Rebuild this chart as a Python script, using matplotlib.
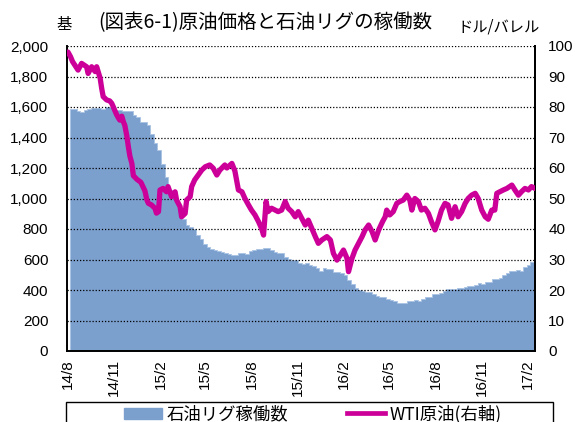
import matplotlib
matplotlib.use("Agg")
import matplotlib.pyplot as plt
import numpy as np
import pandas as pd
from matplotlib.patches import Rectangle, Patch
from matplotlib.lines import Line2D

plt.rcParams['font.family'] = ['Liberation Sans', 'Noto Sans CJK JP', 'DejaVu Sans']

# ---------------- data ----------------
title = "(図表6-1)原油価格と石油リグの稼働数"
left_unit = "基"
right_unit = "ドル/バレル"
rig_label = "石油リグ稼働数"
wti_label = "WTI原油(右軸)"

# weekly US oil rig count (first week: 2014-08-04)
rig_start = "2014-08-04"
rigs = [
    1588, 1590, 1576, 1565, 1581, 1588, 1592, 1595, 1596, 1590, 1600, 1598, 1585, 1578,
    1578, 1574, 1574, 1575, 1546, 1536, 1499, 1499,
    1482, 1421, 1366, 1317, 1223, 1140, 1056, 1019, 986, 922, 866, 825, 813,
    802, 760, 734, 703, 679, 668, 660, 659, 646, 642, 635, 631, 628,
    640, 645, 638, 659, 664, 670, 672, 674, 675, 662, 652, 644, 640,
    614, 605, 595, 594, 578, 572, 574, 564, 555, 545, 524, 541, 538, 536,
    516, 515, 510, 498, 467, 439, 413, 400, 392, 386, 387, 372,
    362, 354, 351, 343, 332, 328, 318, 318, 316, 325, 328, 337, 330,
    341, 351, 357, 371, 374, 381, 396, 406, 406, 407, 414, 416, 418, 425,
    428, 432, 443, 441, 450, 452, 471, 474, 477, 498, 510, 523, 525,
    529, 522, 551, 566, 583, 591,
]

# WTI crude oil price (USD/bbl)
wti_dates = [
    "2014-08-01", "2014-08-06", "2014-08-10", "2014-08-21", "2014-08-28", "2014-09-07",
    "2014-09-10", "2014-09-17", "2014-09-24", "2014-09-27", "2014-10-04", "2014-10-07",
    "2014-10-10", "2014-10-17", "2014-10-23", "2014-10-27", "2014-10-30", "2014-11-03",
    "2014-11-06", "2014-11-09", "2014-11-12", "2014-11-16", "2014-11-19", "2014-11-22",
    "2014-11-26", "2014-11-29", "2014-12-02", "2014-12-06", "2014-12-09", "2014-12-16",
    "2014-12-24", "2015-01-01", "2015-01-05", "2015-01-08", "2015-01-14", "2015-01-21",
    "2015-01-24", "2015-01-28", "2015-01-31", "2015-02-06", "2015-02-13", "2015-02-16",
    "2015-02-23", "2015-03-02", "2015-03-05", "2015-03-12", "2015-03-15", "2015-03-22",
    "2015-03-25", "2015-04-01", "2015-04-04", "2015-04-10", "2015-04-17", "2015-04-24",
    "2015-05-01", "2015-05-10", "2015-05-17", "2015-05-24", "2015-05-30", "2015-06-09",
    "2015-06-13", "2015-06-23", "2015-06-29", "2015-07-06", "2015-07-13", "2015-07-19",
    "2015-07-26", "2015-08-01", "2015-08-08", "2015-08-15", "2015-08-21", "2015-08-25",
    "2015-08-30", "2015-09-03", "2015-09-10", "2015-09-17", "2015-09-23", "2015-09-30",
    "2015-10-07", "2015-10-13", "2015-10-20", "2015-10-27", "2015-11-02", "2015-11-09",
    "2015-11-16", "2015-11-22", "2015-11-29", "2015-12-06", "2015-12-12", "2015-12-19",
    "2015-12-29", "2016-01-05", "2016-01-11", "2016-01-18", "2016-01-25", "2016-01-31",
    "2016-02-07", "2016-02-10", "2016-02-17", "2016-02-23", "2016-03-01", "2016-03-08",
    "2016-03-14", "2016-03-21", "2016-03-28", "2016-04-03", "2016-04-10", "2016-04-18",
    "2016-04-23", "2016-04-26", "2016-05-02", "2016-05-09", "2016-05-16", "2016-05-22",
    "2016-05-29", "2016-06-05", "2016-06-11", "2016-06-15", "2016-06-21", "2016-06-28",
    "2016-07-04", "2016-07-11", "2016-07-18", "2016-07-24", "2016-07-31", "2016-08-06",
    "2016-08-13", "2016-08-20", "2016-08-26", "2016-09-02", "2016-09-09", "2016-09-15",
    "2016-09-22", "2016-09-29", "2016-10-05", "2016-10-12", "2016-10-19", "2016-10-25",
    "2016-11-01", "2016-11-08", "2016-11-14", "2016-11-21", "2016-11-27", "2016-12-01",
    "2016-12-07", "2016-12-14", "2016-12-21", "2016-12-31", "2017-01-06", "2017-01-13",
    "2017-01-19", "2017-01-26", "2017-02-02", "2017-02-08", "2017-02-15",
]
wti = [
    98.0, 96.5, 94.9, 92.1, 94.3, 93.2,
    91.0, 93.2, 91.6, 93.2, 89.4, 86.1,
    83.4, 82.3, 82.0, 81.2, 80.1, 78.5,
    77.4, 76.5, 75.7, 77.0, 75.2, 74.0,
    70.5, 67.0, 64.0, 61.5, 57.5, 56.3,
    55.3, 52.5, 49.5, 48.4, 47.9, 46.8,
    45.2, 45.7, 52.8, 53.3, 52.2, 53.9,
    50.6, 52.2, 49.5, 47.3, 44.0, 45.1,
    49.5, 50.6, 53.9, 56.1, 57.7, 59.3,
    60.4, 61.0, 59.9, 57.7, 59.3, 61.0,
    60.0, 61.5, 59.0, 52.8, 52.2, 50.0,
    47.9, 46.2, 44.6, 42.4, 40.2, 38.0,
    49.0, 45.7, 46.8, 46.2, 45.7, 46.2,
    49.0, 46.8, 45.7, 44.0, 45.7, 43.5,
    41.3, 42.9, 40.2, 37.5, 35.3, 36.4,
    37.5, 36.4, 32.0, 29.8, 31.5, 33.1,
    30.4, 26.0, 30.4, 33.1, 35.3, 37.5,
    39.7, 41.3, 39.1, 36.4, 39.7, 42.5,
    44.0, 46.2, 44.6, 45.7, 48.4, 49.0,
    49.5, 51.1, 49.5, 46.2, 50.0, 49.0,
    46.2, 46.8, 45.1, 42.4, 39.7, 42.4,
    46.2, 48.4, 47.9, 43.5, 47.3, 44.0,
    45.7, 48.4, 50.0, 51.1, 51.7, 50.0,
    46.2, 44.0, 43.2, 46.2, 46.2, 51.7,
    52.2, 52.8, 53.3, 54.4, 52.8, 51.1,
    52.2, 53.3, 52.8, 53.9, 53.3,
]

tick_dates = ["2014-08-01", "2014-11-01", "2015-02-01", "2015-05-01", "2015-08-01",
              "2015-11-01", "2016-02-01", "2016-05-01", "2016-08-01", "2016-11-01",
              "2017-02-01"]
tick_labels = ["14/8", "14/11", "15/2", "15/5", "15/8", "15/11",
               "16/2", "16/5", "16/8", "16/11", "17/2"]

left_ticks = list(range(0, 2001, 200))
right_ticks = list(range(0, 101, 10))

# ---------------- figure ----------------
W, H = 575, 422
fig = plt.figure(figsize=(W / 100, H / 100), dpi=100)
ax = fig.add_axes([67 / W, 1 - 351 / H, (535 - 67) / W, (351 - 46) / H])

rig_x = pd.date_range(rig_start, periods=len(rigs), freq="7D")
fill_col = "#7BA0CE"
ax.fill_between(rig_x, rigs, 0, step="post", color=fill_col, linewidth=0.6,
                edgecolor="#A9C3E4", zorder=1)

ax.set_ylim(0, 2000)
ax.set_xlim(pd.Timestamp("2014-07-30"), pd.Timestamp("2017-02-15"))
ax.set_yticks(left_ticks)
ax.set_yticklabels([f"{v:,}" for v in left_ticks])
ax.set_xticks(pd.to_datetime(tick_dates))
ax.set_xticklabels(tick_labels, rotation=90, va="top", ha="center")
ax.tick_params(axis="y", length=0, pad=13.5, labelsize=11)
ax.tick_params(axis="x", length=0, pad=6, labelsize=11)

ax.set_axisbelow(False)
ax.grid(axis="y", color="black", linestyle=(0, (1, 1.5)), linewidth=0.9, zorder=2)
ax.grid(axis="x", visible=False)

for s in ["left", "bottom", "right"]:
    ax.spines[s].set_color("black")
    ax.spines[s].set_linewidth(1.4)
    ax.spines[s].set_zorder(5)
ax.spines["top"].set_visible(False)

ax2 = ax.twinx()
wti_x = pd.to_datetime(wti_dates)
wti_col = "#CC0099"
ax2.plot(wti_x, wti, color=wti_col, linewidth=3.8, solid_joinstyle="round",
         solid_capstyle="round", zorder=3)
ax2.set_ylim(0, 100)
ax2.set_yticks(right_ticks)
ax2.tick_params(axis="y", length=0, pad=9.5, labelsize=11)
for s in ["left", "bottom", "top"]:
    ax2.spines[s].set_visible(False)
ax2.spines["right"].set_color("black")
ax2.spines["right"].set_linewidth(1.4)

# titles
cjk = ["Noto Sans CJK JP", "Liberation Sans", "DejaVu Sans"]
fig.text(98 / W, 1 - 23 / H, title, ha="left", va="center", fontsize=14, family=cjk)
fig.text(64.5 / W, 1 - 24 / H, left_unit, ha="center", va="center", fontsize=11, family=cjk)
fig.text(457 / W, 1 - 27 / H, right_unit, ha="left", va="center", fontsize=11, family=cjk)

# legend box (cut at bottom like reference)
fig.add_artist(Rectangle((66 / W, -0.05), (553 - 66) / W, 0.05 + (422 - 402) / H,
                         transform=fig.transFigure, facecolor="white",
                         edgecolor="black", linewidth=1.0))
handles = [Patch(facecolor=fill_col, edgecolor=fill_col),
           Line2D([0], [0], color=wti_col, linewidth=3.4)]
fig.legend(handles, [rig_label, wti_label], loc="center", ncol=2,
           bbox_to_anchor=(313 / W, 1 - 414 / H), frameon=False,
           prop={"family": cjk, "size": 12.5}, handlelength=2.2,
           handleheight=0.6, handletextpad=0.25, columnspacing=3.4,
           borderpad=0, borderaxespad=0)

fig.savefig("out.png", dpi=100)
